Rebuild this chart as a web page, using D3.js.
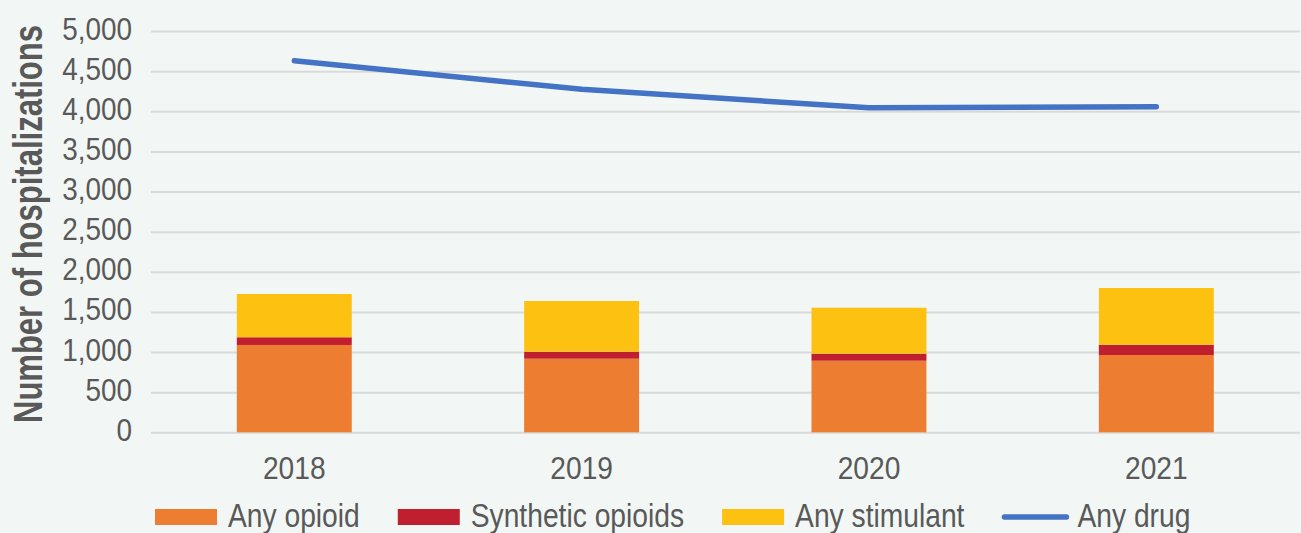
<!DOCTYPE html>
<html>
<head>
<meta charset="utf-8">
<script src="https://cdn.jsdelivr.net/npm/d3@7"></script>
<style>
  html, body { margin: 0; padding: 0; background: #F2F7F5; }
  svg { display: block; }
  text { font-family: "Liberation Sans", Arial, sans-serif; fill: #595959; }
</style>
</head>
<body>
<svg id="chart" width="1301" height="533"></svg>
<script>
const years = ["2018", "2019", "2020", "2021"];
const anyOpioid = [1088, 917, 892, 963];
const syntheticOpioids = [96, 87, 87, 128];
const anyStimulant = [539, 632, 573, 707];
const anyDrug = [4630, 4273, 4044, 4057];
const yTicks = [0, 500, 1000, 1500, 2000, 2500, 3000, 3500, 4000, 4500, 5000];
const seriesNames = ["Any opioid", "Synthetic opioids", "Any stimulant", "Any drug"];
const colors = ["#ED7D31", "#C01F2F", "#FDC112", "#4472C4"];

const svg = d3.select("#chart");
const W = 1301, H = 533;
const plotLeft = 151, plotRight = 1300, plotTop = 31, plotBottom = 432.3;

svg.append("rect").attr("width", W).attr("height", H).attr("fill", "#F2F7F5");

const x = d3.scaleBand().domain(years).range([150.6, 1300]).paddingInner(0.6).paddingOuter(0.3);
const y = d3.scaleLinear().domain([0, 5000]).range([plotBottom, plotTop]);

function condense(sel, f) {
  sel.each(function() {
    const w = this.getComputedTextLength();
    this.setAttribute("textLength", w * f);
    this.setAttribute("lengthAdjust", "spacingAndGlyphs");
  });
}

// gridlines
const grid = svg.append("g").attr("transform", `translate(${plotLeft},0)`)
  .call(d3.axisLeft(y).tickValues(yTicks).tickSize(-(plotRight - plotLeft)).tickFormat(""));
grid.select(".domain").remove();
grid.selectAll("line").attr("stroke", "#D9D9D9").attr("stroke-width", 2);

// y labels
const yAxis = svg.append("g").attr("transform", `translate(${plotLeft},0)`)
  .call(d3.axisLeft(y).tickValues(yTicks).tickSize(0).tickPadding(19).tickFormat(d3.format(",")));
yAxis.select(".domain").remove();
yAxis.selectAll("text").attr("font-size", 31).attr("dy", "0.26em").attr("fill", "#595959")
  .attr("font-family", '"Liberation Sans", Arial, sans-serif');
condense(yAxis.selectAll("text"), 0.90);

// x labels
const xAxis = svg.append("g").attr("transform", `translate(0,${plotBottom})`)
  .call(d3.axisBottom(x).tickSize(0).tickPadding(24));
xAxis.select(".domain").remove();
xAxis.selectAll("text").attr("font-size", 32).attr("fill", "#595959")
  .attr("font-family", '"Liberation Sans", Arial, sans-serif');
condense(xAxis.selectAll("text"), 0.88);

// stacked bars
const rows = years.map((yr, i) => ({ year: yr, a: anyOpioid[i], s: syntheticOpioids[i], t: anyStimulant[i] }));
const stack = d3.stack().keys(["a", "s", "t"])(rows);
svg.append("g").selectAll("g").data(stack).join("g")
  .attr("fill", (d, i) => colors[i])
  .selectAll("rect").data(d => d).join("rect")
  .attr("x", d => x(d.data.year))
  .attr("width", x.bandwidth())
  .attr("y", d => y(d[1]))
  .attr("height", d => y(d[0]) - y(d[1]));

// line
const line = d3.line().x((d, i) => x(years[i]) + x.bandwidth() / 2).y(d => y(d));
svg.append("path").datum(anyDrug)
  .attr("d", line).attr("fill", "none").attr("stroke", colors[3])
  .attr("stroke-width", 5.5).attr("stroke-linecap", "round").attr("stroke-linejoin", "round");

// y title
svg.append("text")
  .attr("transform", "translate(42,224) rotate(-90)")
  .attr("text-anchor", "middle")
  .attr("font-size", 40).attr("font-weight", "bold")
  .attr("textLength", 398).attr("lengthAdjust", "spacingAndGlyphs")
  .text("Number of hospitalizations");

// legend
const lg = svg.append("g");
let cx = 155;
seriesNames.forEach((name, i) => {
  if (i < 3) {
    lg.append("rect").attr("x", cx).attr("y", 509).attr("width", 62).attr("height", 16).attr("fill", colors[i]);
  } else {
    lg.append("line").attr("x1", cx + 2).attr("x2", cx + 64).attr("y1", 517).attr("y2", 517)
      .attr("stroke", colors[i]).attr("stroke-width", 5.5).attr("stroke-linecap", "round");
  }
  cx += (i < 3 ? 73 : 75);
  const t = lg.append("text").attr("x", cx).attr("y", 527).attr("font-size", 33).text(name);
  condense(t, 0.855);
  cx += +t.attr("textLength") + 38;
});
</script>
</body>
</html>
